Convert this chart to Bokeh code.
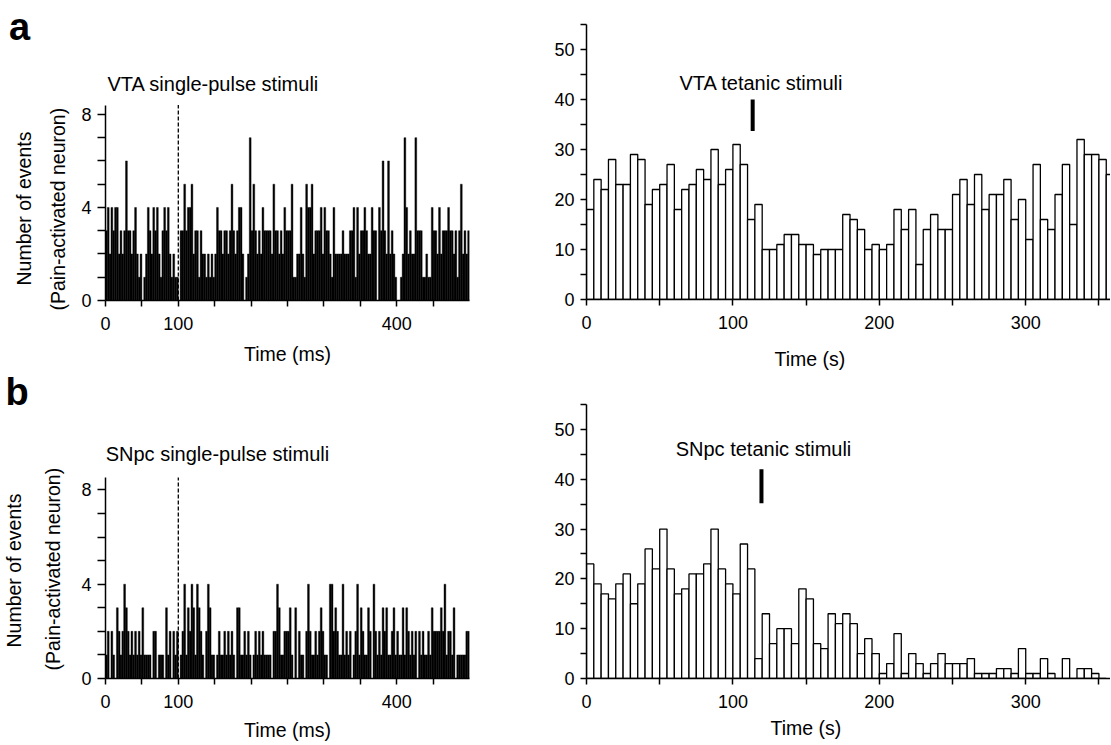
from bokeh.plotting import figure
from bokeh.layouts import column, row
from bokeh.models import FixedTicker, Label, Range1d, ColumnDataSource, Title
from bokeh.embed import file_html
from bokeh.resources import INLINE

FONT = "Liberation Sans"

# ---------------- data ----------------
pulse_bin_ms = 2.5          # single-pulse PSTH bin width (ms), 0-500 ms
tetanic_bin_s = 5           # tetanic histogram bin width (s)

vta_pulse_counts = [
    3, 4, 2, 4, 3, 4, 4, 2, 3, 2,
    3, 6, 3, 3, 2, 3, 4, 2, 1, 2,
    0, 1, 2, 4, 3, 2, 4, 3, 4, 2,
    1, 3, 4, 3, 4, 2, 1, 2, 1, 1,
    0, 3, 3, 5, 3, 4, 4, 5, 2, 3,
    3, 1, 3, 2, 2, 1, 2, 1, 2, 1,
    2, 4, 3, 3, 2, 3, 3, 2, 3, 5,
    3, 2, 3, 4, 4, 2, 0, 1, 2, 7,
    3, 5, 3, 2, 3, 2, 4, 3, 3, 3,
    3, 2, 5, 3, 3, 2, 3, 2, 4, 3,
    3, 3, 5, 1, 1, 2, 2, 4, 2, 1,
    5, 4, 4, 5, 2, 3, 3, 3, 4, 2,
    4, 3, 3, 2, 1, 4, 2, 2, 2, 2,
    3, 2, 2, 2, 3, 3, 4, 1, 4, 2,
    3, 3, 4, 3, 2, 2, 4, 3, 3, 0,
    4, 3, 6, 3, 2, 6, 2, 3, 2, 1,
    0, 0, 1, 2, 7, 4, 2, 3, 2, 2,
    7, 3, 3, 3, 1, 1, 2, 1, 1, 4,
    3, 3, 2, 4, 2, 3, 3, 3, 4, 3,
    3, 2, 3, 1, 3, 5, 2, 3, 2, 3,
]

snpc_pulse_counts = [
    1, 2, 0, 2, 1, 0, 3, 2, 1, 2,
    4, 3, 2, 1, 2, 1, 2, 1, 2, 1,
    3, 1, 1, 1, 1, 0, 2, 2, 0, 1,
    1, 1, 0, 3, 1, 2, 0, 2, 1, 2,
    0, 1, 2, 4, 1, 3, 2, 4, 3, 1,
    4, 3, 2, 1, 0, 2, 4, 3, 1, 1,
    0, 1, 2, 1, 1, 2, 1, 2, 1, 2,
    1, 0, 3, 3, 1, 1, 2, 1, 2, 1,
    0, 1, 2, 1, 2, 1, 2, 1, 1, 1,
    1, 0, 2, 2, 4, 3, 1, 1, 2, 2,
    2, 3, 1, 0, 3, 0, 2, 1, 1, 0,
    2, 4, 2, 1, 1, 2, 1, 2, 3, 2,
    1, 1, 0, 4, 4, 2, 3, 2, 1, 1,
    4, 1, 2, 1, 2, 0, 1, 2, 4, 1,
    3, 2, 1, 1, 3, 2, 0, 4, 2, 1,
    2, 1, 3, 2, 3, 1, 1, 2, 3, 1,
    2, 1, 1, 3, 1, 3, 2, 1, 2, 1,
    2, 0, 2, 1, 2, 1, 1, 2, 1, 3,
    2, 2, 2, 2, 3, 2, 4, 1, 2, 2,
    1, 3, 0, 1, 1, 1, 1, 1, 2, 2,
]

vta_tetanic_counts = [
    18, 24, 22, 28, 23, 23, 29, 28, 19, 22,
    23, 27, 18, 22, 23, 26, 24, 30, 23, 26,
    31, 27, 16, 19, 10, 10, 11, 13, 13, 11,
    11, 9, 10, 10, 10, 17, 16, 14, 10, 11,
    10, 11, 18, 14, 18, 7, 14, 17, 14, 14,
    21, 24, 19, 25, 18, 21, 21, 24, 16, 20,
    12, 27, 16, 14, 21, 27, 15, 32, 29, 29,
    28, 25,
]

snpc_tetanic_counts = [
    23, 19, 17, 16, 19, 21, 15, 19, 26, 22,
    30, 22, 17, 18, 21, 21, 23, 30, 22, 19,
    17, 27, 22, 4, 13, 7, 10, 10, 7, 18,
    16, 7, 6, 13, 11, 13, 11, 5, 8, 5,
    1, 3, 9, 1, 5, 3, 1, 3, 5, 3,
    3, 3, 4, 1, 1, 1, 2, 2, 1, 6,
    1, 1, 4, 1, 0, 4, 0, 2, 2, 1,
    0,
]

pulse_stim_ms = 100                       # single-pulse stimulus time
vta_tetanic_stim = (113.5, 33.7, 40)      # time (s), marker bottom, marker top
snpc_tetanic_stim = (119.5, 35.2, 42)

pulse_x_ticks = list(range(0, 500, 50))
pulse_x_labels = [0, 100, 400]
pulse_y_ticks = list(range(0, 9))
pulse_y_labels = [0, 4, 8]
tet_x_ticks = list(range(0, 400, 50))
tet_x_labels = [0, 100, 200, 300]
tet_y_ticks = list(range(0, 56, 5))
tet_y_labels = [0, 10, 20, 30, 40, 50]


def hist_source(counts, width):
    left = [i * width for i in range(len(counts))]
    right = [(i + 1) * width for i in range(len(counts))]
    return ColumnDataSource(dict(left=left, right=right, top=counts,
                                 bottom=[0] * len(counts)))


def make_fig(w, h, xr, yr, mbl, mbr, mbt, mbb):
    p = figure(width=w, height=h, x_range=Range1d(*xr), y_range=Range1d(*yr),
               output_backend="svg", toolbar_location=None,
               min_border_left=mbl, min_border_right=mbr,
               min_border_top=mbt, min_border_bottom=mbb)
    p.outline_line_color = None
    p.grid.visible = False
    p.background_fill_color = "white"
    p.border_fill_color = "white"
    for ax in (p.xaxis[0], p.yaxis[0]):
        ax.axis_line_width = 1.5
        ax.axis_line_color = "black"
        ax.major_tick_line_width = 1.5
        ax.major_tick_line_color = "black"
        ax.major_tick_in = 0
        ax.minor_tick_line_color = None
        ax.major_label_text_font = FONT
        ax.major_label_text_font_size = "18px"
        ax.major_label_text_color = "black"
        ax.axis_label_text_font = FONT
        ax.axis_label_text_font_size = "19.5px"
        ax.axis_label_text_font_style = "normal"
        ax.axis_label_text_color = "black"
    return p


def set_ticks(ax, ticks, labeled, out, standoff):
    ax.ticker = FixedTicker(ticks=ticks)
    ax.major_label_overrides = {t: ("" if t not in labeled else str(t)) for t in ticks}
    ax.major_tick_out = out
    ax.major_label_standoff = standoff


def label_in(p, x, y, s, align="center"):
    p.add_layout(Label(x=x, y=y, text=s, text_font=FONT, text_font_size="20px",
                       text_align=align, text_baseline="middle", text_color="black"))


def title(p, side, s, offset, standoff, size="19.5px", bold=False):
    p.add_layout(Title(text=s, align="left", offset=offset, standoff=standoff,
                       text_font=FONT, text_font_size=size, text_color="black",
                       text_font_style="bold" if bold else "normal"), side)


def pulse_panel(counts, name, letter, w, h, yr, ytop, mbl, mbr, mbt, mbb, cfg):
    p = make_fig(w, h, (0, 500), yr, mbl, mbr, mbt, mbb)
    p.quad(left="left", right="right", top="top", bottom="bottom",
           source=hist_source(counts, pulse_bin_ms),
           fill_color="black", line_color="black", line_width=0.4)
    p.segment(x0=[pulse_stim_ms], y0=[0], x1=[pulse_stim_ms], y1=[ytop],
              line_color="black", line_width=1.3, line_dash="4 2")
    set_ticks(p.xaxis[0], pulse_x_ticks, pulse_x_labels, 6, 10)
    set_ticks(p.yaxis[0], pulse_y_ticks, pulse_y_labels, 8, 6)
    p.yaxis[0].bounds = (0, ytop)
    p.xaxis[0].axis_label = "Time (ms)"
    p.xaxis[0].axis_label_standoff = cfg["xlab_standoff"]
    # y-axis titles (two lines), stacked outward from the axis
    title(p, "left", "(Pain-activated neuron)", cfg["ylab2_offset"], cfg["ylab2_standoff"])
    title(p, "left", "Number of events", cfg["ylab1_offset"], cfg["ylab1_standoff"])
    # panel letter
    title(p, "above", letter, cfg["letter_offset"], cfg["letter_standoff"], size="38px", bold=True)
    # panel heading inside the plotting area
    label_in(p, cfg["title"][0], cfg["title"][1], name, align="left")
    return p


def tetanic_panel(counts, name, stim, w, h, xr, mbl, mbr, mbt, mbb, cfg):
    p = make_fig(w, h, xr, (0, 55), mbl, mbr, mbt, mbb)
    p.quad(left="left", right="right", top="top", bottom="bottom",
           source=hist_source(counts, tetanic_bin_s),
           fill_color="white", line_color="black", line_width=1.3)
    p.segment(x0=[stim[0]], y0=[stim[1]], x1=[stim[0]], y1=[stim[2]],
              line_color="black", line_width=4)
    set_ticks(p.xaxis[0], tet_x_ticks, tet_x_labels, 6, 10)
    set_ticks(p.yaxis[0], tet_y_ticks, tet_y_labels, 6, 6)
    label_in(p, cfg["title"][0], cfg["title"][1], name)
    title(p, "below", "Time (s)", cfg["xlab_offset"], cfg["xlab_standoff"])
    return p


# left column: p1 canvas 0..368, p3 368..744 ; right column: p2 0..386, p4 386..744
p1 = pulse_panel(vta_pulse_counts, "VTA single-pulse stimuli", "a",
                 515, 368, (0, 10.746), 8.4, 105, 46, 48, 68,
                 dict(xlab_standoff=10, ylab2_offset=-10, ylab2_standoff=20,
                      ylab1_offset=15, ylab1_standoff=0,
                      letter_offset=-96.5, letter_standoff=5.5, title=(2.7, 9.31)))
p3 = pulse_panel(snpc_pulse_counts, "SNpc single-pulse stimuli", "b",
                 515, 376, (0, 11.28), 8.52, 105, 46, 43, 66,
                 dict(xlab_standoff=8, ylab2_offset=8, ylab2_standoff=30,
                      ylab1_offset=31, ylab1_standoff=0,
                      letter_offset=-100, letter_standoff=0, title=(0.3, 9.54)))
p2 = tetanic_panel(vta_tetanic_counts, "VTA tetanic stimuli", vta_tetanic_stim,
                   595, 386, (0, 357.9), 71, 0, 24, 87,
                   dict(title=(119.5, 43.4), xlab_offset=188, xlab_standoff=28.6))
p4 = tetanic_panel(snpc_tetanic_counts, "SNpc tetanic stimuli", snpc_tetanic_stim,
                   595, 358, (0, 357.9), 71, 0, 18, 66,
                   dict(title=(120.9, 46.0), xlab_offset=184, xlab_standoff=8))

layout = row(column(p1, p3), column(p2, p4))
open("out.html", "w").write(file_html(layout, INLINE))
